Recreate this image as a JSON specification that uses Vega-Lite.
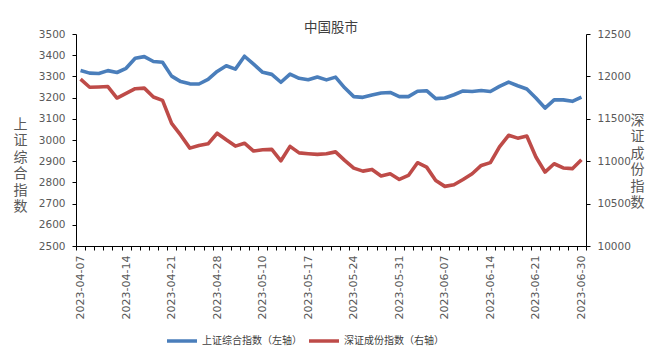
{
  "$schema": "https://vega.github.io/schema/vega-lite/v6.json",
  "autosize": {"type": "none"},
  "width": 510,
  "height": 212,
  "padding": {"left": 76, "top": 34, "right": 78, "bottom": 116},
  "background": "white",
  "config": {"view": {"stroke": null}},
  "title": {"text": "中国股市", "anchor": "middle", "frame": "group", "offset": -5, "font": "Noto Sans CJK SC", "fontSize": 13.5, "fontWeight": "normal", "color": "#404040"},
  "data": {"values": [
    {"d": "2023-04-07", "sh": 3327.65, "sz": 11967},
    {"d": "2023-04-10", "sh": 3315.36, "sz": 11872},
    {"d": "2023-04-11", "sh": 3313.57, "sz": 11875},
    {"d": "2023-04-12", "sh": 3327.18, "sz": 11880},
    {"d": "2023-04-13", "sh": 3318.36, "sz": 11745},
    {"d": "2023-04-14", "sh": 3338.15, "sz": 11800},
    {"d": "2023-04-17", "sh": 3385.61, "sz": 11855},
    {"d": "2023-04-18", "sh": 3393.33, "sz": 11862},
    {"d": "2023-04-19", "sh": 3370.13, "sz": 11757},
    {"d": "2023-04-20", "sh": 3367.03, "sz": 11717},
    {"d": "2023-04-21", "sh": 3301.26, "sz": 11446},
    {"d": "2023-04-24", "sh": 3275.41, "sz": 11307},
    {"d": "2023-04-25", "sh": 3264.87, "sz": 11154},
    {"d": "2023-04-26", "sh": 3264.10, "sz": 11186},
    {"d": "2023-04-27", "sh": 3285.88, "sz": 11205},
    {"d": "2023-04-28", "sh": 3323.27, "sz": 11330},
    {"d": "2023-05-04", "sh": 3350.46, "sz": 11252},
    {"d": "2023-05-05", "sh": 3334.50, "sz": 11178},
    {"d": "2023-05-08", "sh": 3395.00, "sz": 11212},
    {"d": "2023-05-09", "sh": 3357.67, "sz": 11120},
    {"d": "2023-05-10", "sh": 3319.15, "sz": 11135},
    {"d": "2023-05-11", "sh": 3309.55, "sz": 11140},
    {"d": "2023-05-12", "sh": 3272.36, "sz": 11005},
    {"d": "2023-05-15", "sh": 3310.75, "sz": 11175},
    {"d": "2023-05-16", "sh": 3290.99, "sz": 11098},
    {"d": "2023-05-17", "sh": 3284.23, "sz": 11088},
    {"d": "2023-05-18", "sh": 3297.32, "sz": 11080},
    {"d": "2023-05-19", "sh": 3283.54, "sz": 11088},
    {"d": "2023-05-22", "sh": 3296.47, "sz": 11110},
    {"d": "2023-05-23", "sh": 3246.24, "sz": 11010},
    {"d": "2023-05-24", "sh": 3204.75, "sz": 10918},
    {"d": "2023-05-25", "sh": 3201.26, "sz": 10883},
    {"d": "2023-05-26", "sh": 3212.50, "sz": 10903},
    {"d": "2023-05-29", "sh": 3221.45, "sz": 10825},
    {"d": "2023-05-30", "sh": 3224.21, "sz": 10852},
    {"d": "2023-05-31", "sh": 3204.56, "sz": 10785},
    {"d": "2023-06-01", "sh": 3204.63, "sz": 10832},
    {"d": "2023-06-02", "sh": 3230.07, "sz": 10982},
    {"d": "2023-06-05", "sh": 3232.44, "sz": 10930},
    {"d": "2023-06-06", "sh": 3195.34, "sz": 10772},
    {"d": "2023-06-07", "sh": 3197.90, "sz": 10703},
    {"d": "2023-06-08", "sh": 3213.59, "sz": 10722},
    {"d": "2023-06-09", "sh": 3231.41, "sz": 10785},
    {"d": "2023-06-12", "sh": 3228.83, "sz": 10852},
    {"d": "2023-06-13", "sh": 3233.67, "sz": 10950},
    {"d": "2023-06-14", "sh": 3228.99, "sz": 10983},
    {"d": "2023-06-15", "sh": 3252.98, "sz": 11168},
    {"d": "2023-06-16", "sh": 3273.33, "sz": 11305},
    {"d": "2023-06-19", "sh": 3255.81, "sz": 11272},
    {"d": "2023-06-20", "sh": 3240.36, "sz": 11297},
    {"d": "2023-06-21", "sh": 3197.76, "sz": 11050},
    {"d": "2023-06-26", "sh": 3150.62, "sz": 10872},
    {"d": "2023-06-27", "sh": 3189.38, "sz": 10970},
    {"d": "2023-06-28", "sh": 3189.25, "sz": 10920},
    {"d": "2023-06-29", "sh": 3182.38, "sz": 10912},
    {"d": "2023-06-30", "sh": 3202.06, "sz": 11018}
  ]},
  "encoding": {
    "x": {
      "field": "d", "type": "ordinal", "sort": null, "bandPosition": 0.5,
      "scale": {"type": "band", "paddingInner": 0, "paddingOuter": 0},
      "axis": {
        "title": null, "labelAngle": 270, "labelFont": "DejaVu Sans", "labelFontSize": 11, "labelColor": "#595959",
        "labelPadding": 5, "labelOverlap": false, "tickSize": 4, "tickBand": "extent",
        "domainColor": "#000000", "tickColor": "#000000", "grid": false,
        "labelExpr": "indexof(['2023-04-07','2023-04-14','2023-04-21','2023-04-28','2023-05-10','2023-05-17','2023-05-24','2023-05-31','2023-06-07','2023-06-14','2023-06-21','2023-06-30'], datum.value) >= 0 ? datum.value : ''"
      }
    }
  },
  "layer": [
    {
      "mark": {"type": "line", "strokeWidth": 3.6, "strokeJoin": "round"},
      "encoding": {
        "y": {
          "field": "sh", "type": "quantitative",
          "scale": {"domain": [2500, 3500], "nice": false, "zero": false},
          "axis": {
            "orient": "left", "values": [2500, 2600, 2700, 2800, 2900, 3000, 3100, 3200, 3300, 3400, 3500], "format": "d",
            "grid": false, "domainColor": "#000000", "tickColor": "#000000", "tickSize": 4,
            "labelFont": "DejaVu Sans", "labelFontSize": 10.5, "labelColor": "#595959", "labelPadding": 7,
            "title": ["上", "证", "综", "合", "指", "数"], "titleAngle": 0, "titleAlign": "center", "titleBaseline": "top",
            "titleX": -56, "titleY": 83, "titleFont": "Noto Sans CJK SC", "titleFontSize": 14, "titleFontWeight": "normal",
            "titleColor": "#595959", "titleLineHeight": 16.5
          }
        },
        "color": {
          "datum": "上证综合指数（左轴）",
          "scale": {"domain": ["上证综合指数（左轴）", "深证成份指数（右轴）"], "range": ["#4A7EBB", "#BE4B48"]},
          "legend": {
            "title": null, "orient": "none", "legendX": 89, "legendY": 290, "direction": "horizontal",
            "symbolType": "stroke", "symbolSize": 900, "symbolStrokeWidth": 3.5,
            "labelFont": "Noto Sans CJK SC", "labelFontSize": 10, "labelColor": "#404040",
            "labelOffset": 3, "columnPadding": 0, "padding": 0
          }
        }
      }
    },
    {
      "mark": {"type": "line", "strokeWidth": 3.6, "strokeJoin": "round"},
      "encoding": {
        "y": {
          "field": "sz", "type": "quantitative",
          "scale": {"domain": [10000, 12500], "nice": false, "zero": false},
          "axis": {
            "orient": "right", "values": [10000, 10500, 11000, 11500, 12000, 12500], "format": "d",
            "grid": false, "domainColor": "#000000", "tickColor": "#000000", "tickSize": 4,
            "labelFont": "DejaVu Sans", "labelFontSize": 10.5, "labelColor": "#595959", "labelPadding": 7,
            "title": ["深", "证", "成", "份", "指", "数"], "titleAngle": 0, "titleAlign": "center", "titleBaseline": "top",
            "titleX": 51, "titleY": 79, "titleFont": "Noto Sans CJK SC", "titleFontSize": 14, "titleFontWeight": "normal",
            "titleColor": "#595959", "titleLineHeight": 16.5
          }
        },
        "color": {"datum": "深证成份指数（右轴）"}
      }
    }
  ],
  "resolve": {"scale": {"y": "independent"}}
}
